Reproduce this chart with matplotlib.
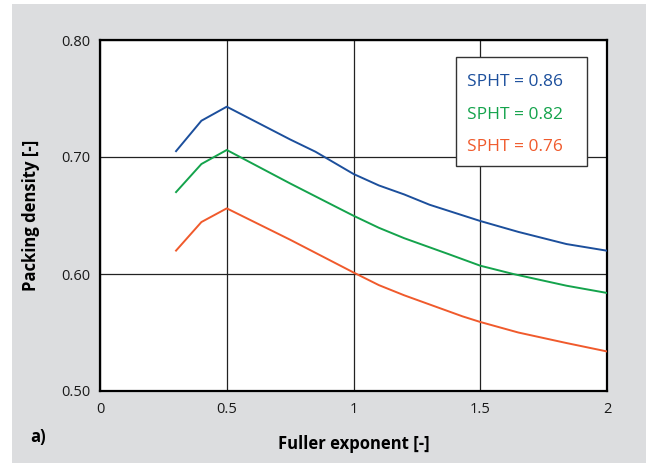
import matplotlib
matplotlib.use("Agg")
import matplotlib.pyplot as plt
from matplotlib.patches import Rectangle

plt.rcParams['font.family'] = ['Open Sans', 'DejaVu Sans']

x_086 = [0.3, 0.4, 0.5, 0.75, 0.85, 1.0, 1.1, 1.2, 1.3, 1.5, 1.65, 1.84, 2.0]
y_086 = [0.705, 0.731, 0.743, 0.715, 0.7045, 0.6855, 0.6757, 0.668, 0.6592, 0.6453, 0.636, 0.6256, 0.6199]

x_082 = [0.3, 0.4, 0.5, 0.75, 0.94, 1.0, 1.1, 1.2, 1.375, 1.5, 1.63, 1.84, 2.0]
y_082 = [0.670, 0.694, 0.706, 0.6774, 0.6564, 0.6498, 0.6395, 0.6306, 0.617, 0.6071, 0.600, 0.590, 0.5838]

x_076 = [0.3, 0.4, 0.5, 0.75, 1.0, 1.1, 1.2, 1.43, 1.5, 1.65, 1.84, 2.0]
y_076 = [0.620, 0.6444, 0.6561, 0.6293, 0.6013, 0.5905, 0.5818, 0.5638, 0.559, 0.550, 0.541, 0.5338]

labels = ['SPHT = 0.86', 'SPHT = 0.82', 'SPHT = 0.76']
colors = ['#1c4f9c', '#14a34c', '#f05a2c']

xticks = [0, 0.5, 1, 1.5, 2]
xticklabels = ['0', '0.5', '1', '1.5', '2']
yticks = [0.50, 0.60, 0.70, 0.80]
yticklabels = ['0.50', '0.60', '0.70', '0.80']

fig = plt.figure(figsize=(6.46, 4.63), dpi=100, facecolor='white')
fig.patches.append(Rectangle((12 / 646, 0), 1, (463 - 4) / 463, transform=fig.transFigure,
                             facecolor='#dcdddf', edgecolor='none', zorder=-10))

ax = fig.add_axes([100 / 646, 72 / 463, 507 / 646, 351 / 463])
ax.set_facecolor('white')

series = [(x_086, y_086), (x_082, y_082), (x_076, y_076)]
for (xs, ys), c in zip(series, colors):
    ax.plot(xs, ys, color=c, lw=1.4, zorder=3)

ax.set_xlim(0, 2)
ax.set_ylim(0.50, 0.80)
ax.set_xticks(xticks)
ax.set_xticklabels(xticklabels)
ax.set_yticks(yticks)
ax.set_yticklabels(yticklabels)
ax.tick_params(length=0, labelsize=10.5, colors='#1a1a1a', pad=8)
ax.tick_params(axis='y', pad=7)
ax.grid(True, color='#222222', lw=0.9)
for s in ax.spines.values():
    s.set_linewidth(1.6)
    s.set_color('black')

ax.set_xlabel('Fuller exponent [-]', fontsize=12, fontweight='bold', labelpad=13)
ax.set_ylabel('Packing density [-]', fontsize=12, fontweight='bold', labelpad=15)
fig.text(30 / 646, 1 - 437 / 463, 'a)', fontsize=12, fontweight='bold', va='center')

# legend box drawn as text in a framed rectangle
ax.add_patch(Rectangle((456 / 646, 1 - 166 / 463), 131 / 646, 109 / 463, transform=fig.transFigure,
                       facecolor='white', edgecolor='#333333', lw=1.0, zorder=5))
for lab, c, yy in zip(labels, colors, [82, 115, 147]):
    fig.text(467 / 646, 1 - yy / 463, lab, color=c, fontsize=12.5, va='center', zorder=6)

fig.savefig('out.png', dpi=100)
